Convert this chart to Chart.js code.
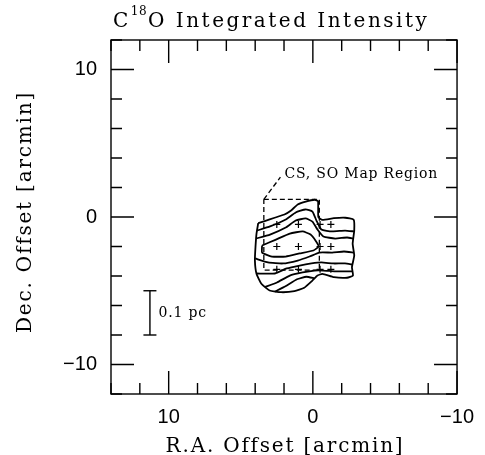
<!DOCTYPE html>
<html>
<head>
<meta charset="utf-8">
<script src="https://cdn.jsdelivr.net/npm/chart.js@4.4.1/dist/chart.umd.min.js"></script>
<style>
  html, body { margin: 0; padding: 0; background: #fff; }
</style>
</head>
<body>
<canvas id="c18oMap" width="485" height="455"></canvas>
<script>
// C18O integrated intensity contours, offsets in arcmin [R.A., Dec.]
const outerContour = [
	[3.79, -0.42], [3.34, -0.28], [2.65, -0.05], [1.97, 0.17], [1.51, 0.44], [1.05, 0.85],
	[0.49, 1.05], [-0.13, 1.17], [-0.36, 1.07], [-0.38, -0.01], [-0.66, -0.19], [-1.46, -0.08],
	[-2.25, -0.05], [-2.83, -0.19], [-2.87, -0.92], [-2.76, -1.82], [-2.87, -2.61], [-2.71, -3.40],
	[-2.78, -3.97], [-2.37, -4.12], [-1.46, -4.08], [-0.66, -3.85], [-0.32, -3.97], [0.03, -4.31],
	[0.60, -4.80], [1.28, -5.03], [2.20, -5.10], [3.00, -4.98], [3.57, -4.53], [3.91, -3.85],
	[4.02, -2.95], [3.98, -2.05], [3.91, -1.14], [3.79, -0.42]
];
const contour2 = [
	[3.87, -0.92], [2.97, -0.64], [1.88, -0.17], [1.19, 0.31], [0.51, 0.51], [0.03, 0.37],
	[-0.25, -0.24], [-0.59, -0.85], [-1.34, -0.98], [-2.23, -0.92], [-2.87, -0.98]
];
const contour3 = [
	[3.94, -1.46], [2.97, -1.19], [1.88, -0.71], [1.19, -0.24], [0.51, -0.10], [0.03, -0.31],
	[-0.32, -0.85], [-0.73, -1.32], [-1.55, -1.46], [-2.37, -1.39], [-2.82, -1.46]
];
const contourPeak = [
	[3.52, -1.93], [2.56, -1.53], [1.60, -1.12], [0.71, -0.98], [0.16, -1.19], [-0.18, -1.59],
	[-0.40, -2.00], [-0.04, -2.27], [0.92, -2.47], [1.88, -2.68], [2.84, -2.68], [3.52, -2.41],
	[3.52, -1.93]
];
const contour5 = [
	[4.00, -2.81], [3.11, -3.08], [2.08, -3.15], [1.05, -2.95], [0.23, -2.68], [-0.45, -2.41],
	[-1.34, -2.41], [-2.16, -2.34], [-2.85, -2.41]
];
const contour6 = [
	[3.91, -3.83], [2.63, -3.83], [1.81, -3.49], [0.92, -3.29], [0.10, -3.15], [-0.59, -3.08],
	[-1.41, -3.15], [-2.23, -3.15], [-2.75, -3.22]
];
const contour7 = [
	[3.32, -4.75], [2.49, -4.44], [1.60, -3.97], [0.71, -3.76], [-0.11, -3.63], [-0.73, -3.63],
	[-1.55, -3.69], [-2.37, -3.69], [-2.76, -3.69]
];
const contour8 = [
	[2.63, -5.06], [1.90, -4.70], [1.10, -4.22], [0.45, -4.05], [-0.10, -4.15]
];

// observed positions
const crossRA = [2.5, 1.0, -0.5, -1.25];
const crossDec = [-0.5, -2.0, -3.55];

// CS, SO map region corners
const mapRegionRA = [3.4, -0.45];
const mapRegionDec = [1.2, -3.6];
const mapLeader = [[3.4, 1.2], [2.25, 2.7]];

// 0.1 pc scale bar
const scaleBarRA = 11.3;
const scaleBarDec = [-5, -8];

const xTicks = [10, 0, -10];
const yTicks = [10, 0, -10];

const pts = arr => arr.map(([x, y]) => ({ x, y }));
const contourSet = [outerContour, contour2, contour3, contourPeak, contour5, contour6, contour7, contour8];

const crossPts = [];
crossDec.forEach(d => crossRA.forEach(r => crossPts.push({ x: r, y: d })));

const regionBox = [
	[mapRegionRA[0], mapRegionDec[0]], [mapRegionRA[1], mapRegionDec[0]],
	[mapRegionRA[1], mapRegionDec[1]], [mapRegionRA[0], mapRegionDec[1]],
	[mapRegionRA[0], mapRegionDec[0]]
];

const lineSet = (arr, extra) => Object.assign({
	data: pts(arr),
	showLine: true,
	borderColor: '#000',
	borderWidth: 1.8,
	pointRadius: 0,
	tension: 0.15,
	fill: false
}, extra || {});

const fmt = v => (v < 0 ? '\u2212' + Math.abs(v) : String(v));
const serif = '"DejaVu Serif", "Liberation Serif", serif';
const sans = '"Liberation Sans", Arial, sans-serif';

// frame, inward tick marks, titles and annotations
const frameTicks = {
	id: 'frameTicks',
	afterDatasetsDraw(chart) {
		const { ctx, chartArea: a, scales: { x, y } } = chart;
		ctx.save();
		ctx.strokeStyle = '#000';
		ctx.lineWidth = 1.4;
		ctx.strokeRect(a.left, a.top, a.right - a.left, a.bottom - a.top);
		ctx.beginPath();
		x.ticks.forEach(t => {
			const p = x.getPixelForValue(t.value);
			const len = t.value % 10 === 0 ? 23 : 11;
			ctx.moveTo(p, a.bottom); ctx.lineTo(p, a.bottom - len);
			ctx.moveTo(p, a.top); ctx.lineTo(p, a.top + len);
		});
		y.ticks.forEach(t => {
			const p = y.getPixelForValue(t.value);
			const len = t.value % 10 === 0 ? 23 : 11;
			ctx.moveTo(a.left, p); ctx.lineTo(a.left + len, p);
			ctx.moveTo(a.right, p); ctx.lineTo(a.right - len, p);
		});
		ctx.stroke();

		ctx.fillStyle = '#000';
		ctx.textBaseline = 'middle';
		ctx.textAlign = 'left';
		ctx.letterSpacing = '0.8px';
		ctx.font = '14px ' + serif;
		ctx.fillText('CS, SO Map Region', x.getPixelForValue(1.97), y.getPixelForValue(2.88));
		ctx.fillText('0.1 pc', x.getPixelForValue(10.7), y.getPixelForValue(-6.5));

		// axis titles
		ctx.textBaseline = 'alphabetic';
		ctx.textAlign = 'center';
		ctx.letterSpacing = '1.8px';
		ctx.font = '20px ' + serif;
		ctx.fillText('R.A. Offset [arcmin]', (a.left + a.right) / 2 + 1, a.bottom + 58);
		ctx.save();
		ctx.translate(a.left - 80, (a.top + a.bottom) / 2 - 5);
		ctx.rotate(-Math.PI / 2);
		ctx.fillText('Dec. Offset [arcmin]', 0, 0);
		ctx.restore();

		// title with superscript isotope number
		ctx.textAlign = 'left';
		ctx.letterSpacing = '2.5px';
		let tx = a.left + 2;
		const ty = a.top - 13;
		ctx.font = '20px ' + serif;
		ctx.fillText('C', tx, ty);
		tx += ctx.measureText('C').width;
		ctx.letterSpacing = '0.5px';
		ctx.font = '12px ' + serif;
		ctx.fillText('18', tx, ty - 12);
		tx += ctx.measureText('18').width + 1;
		ctx.letterSpacing = '2.5px';
		ctx.font = '20px ' + serif;
		ctx.fillText('O Integrated Intensity', tx, ty);
		ctx.restore();
	}
};

new Chart(document.getElementById('c18oMap'), {
	type: 'scatter',
	data: {
		datasets: [
			...contourSet.map(c => lineSet(c)),
			lineSet(regionBox, { borderWidth: 1.3, borderDash: [5, 3], tension: 0 }),
			lineSet(mapLeader, { borderWidth: 1.3, borderDash: [5, 3], tension: 0 }),
			{
				data: crossPts,
				pointStyle: 'cross',
				pointRadius: 3.5,
				borderColor: '#000',
				borderWidth: 1.2,
				showLine: false
			},
			lineSet([[scaleBarRA, scaleBarDec[0]], [scaleBarRA, scaleBarDec[1]]], {
				borderWidth: 1.4,
				tension: 0,
				pointStyle: 'line',
				pointRadius: 6.5,
				pointBorderWidth: 1.4,
				pointBorderColor: '#000'
			})
		]
	},
	options: {
		responsive: false,
		animation: false,
		events: [],
		layout: { padding: { top: 40, right: 23, left: 0, bottom: 0 } },
		plugins: { legend: { display: false }, tooltip: { enabled: false } },
		scales: {
			x: {
				type: 'linear',
				min: -10,
				max: 14,
				reverse: true,
				afterFit: s => { s.height = 61; },
				grid: { display: false, drawTicks: false },
				border: { display: false },
				ticks: {
					stepSize: 2,
					autoSkip: false,
					maxRotation: 0,
					padding: 11,
					color: '#000',
					font: { family: sans, size: 20 },
					callback: v => (xTicks.includes(v) ? fmt(v) : '')
				}
			},
			y: {
				type: 'linear',
				min: -12,
				max: 12,
				afterFit: s => { s.width = 111; },
				grid: { display: false, drawTicks: false },
				border: { display: false },
				ticks: {
					stepSize: 2,
					autoSkip: false,
					padding: 14,
					color: '#000',
					font: { family: sans, size: 20 },
					callback: v => (yTicks.includes(v) ? fmt(v) : '')
				}
			}
		}
	},
	plugins: [frameTicks]
});
</script>
</body>
</html>
